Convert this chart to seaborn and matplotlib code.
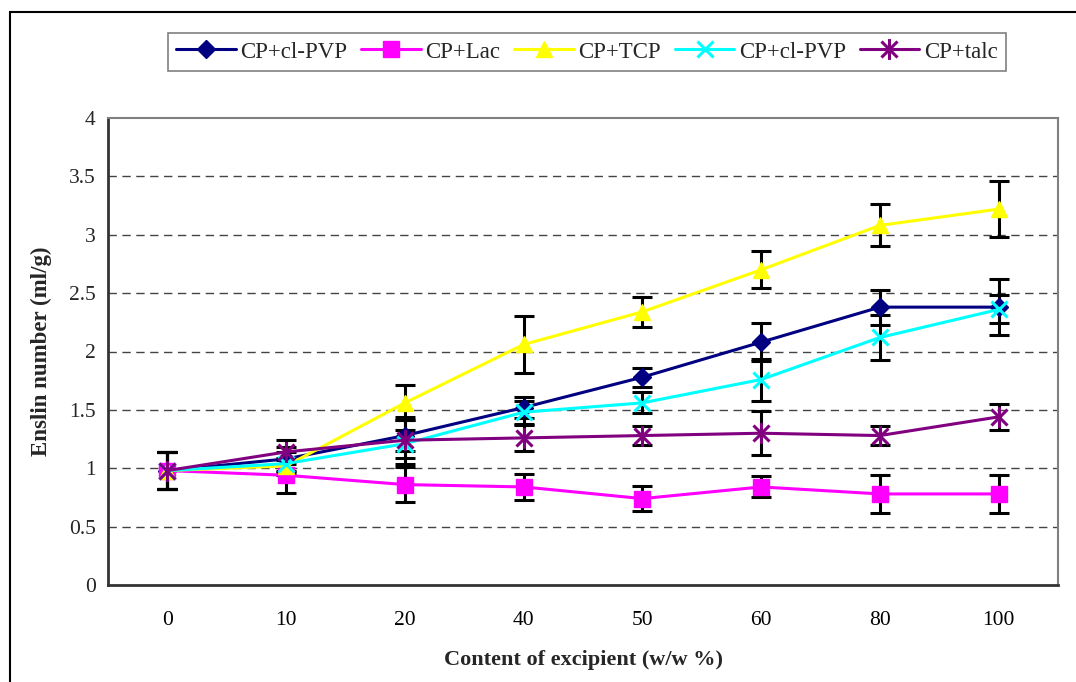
import numpy as np
import pandas as pd
import seaborn as sns
import matplotlib
matplotlib.use('Agg')
from matplotlib import pyplot as plt
from matplotlib.patches import Rectangle
from matplotlib.lines import Line2D
from matplotlib.path import Path
from matplotlib.ticker import FixedLocator

categories = ['0', '10', '20', '40', '50', '60', '80', '100']

clpvp1 = [0.98, 1.08, 1.28, 1.52, 1.78, 2.08, 2.38, 2.38]
clpvp1_err = [0.16, 0.10, 0.13, 0.09, 0.08, 0.16, 0.15, 0.24]
lac = [0.98, 0.94, 0.86, 0.84, 0.74, 0.84, 0.78, 0.78]
lac_err = [0.16, 0.15, 0.15, 0.11, 0.11, 0.09, 0.16, 0.16]
tcp = [0.98, 1.02, 1.56, 2.06, 2.34, 2.70, 3.08, 3.22]
tcp_err = [0.16, 0.05, 0.15, 0.24, 0.13, 0.16, 0.18, 0.24]
clpvp2 = [0.98, 1.04, 1.21, 1.48, 1.56, 1.76, 2.12, 2.36]
clpvp2_err = [0.16, 0.10, 0.12, 0.10, 0.09, 0.18, 0.19, 0.12]
talc = [0.98, 1.14, 1.24, 1.26, 1.28, 1.30, 1.28, 1.44]
talc_err = [0.16, 0.10, 0.20, 0.11, 0.08, 0.19, 0.08, 0.11]

sns.set_style('white')
plt.rcParams['font.family'] = ['Liberation Serif', 'DejaVu Serif']

# excel style asterisk: an x with a vertical stroke through it
star = Path([(-1, -1), (1, 1), (-1, 1), (1, -1), (0, -1.3), (0, 1.3)],
            [Path.MOVETO, Path.LINETO, Path.MOVETO, Path.LINETO, Path.MOVETO, Path.LINETO])

fig = plt.figure(figsize=(10.76, 6.82), dpi=100)
ax = fig.add_axes([108/1076, (682-585)/682, (1058-108)/1076, (585-118)/682])

x = np.arange(len(categories))
# label, values, errors, color, marker, size, edge width
series = [
    ('CP+cl-PVP', clpvp1, clpvp1_err, '#000080', 'D', 9, 1),
    ('CP+Lac', lac, lac_err, '#FF00FF', 's', 11, 1),
    ('CP+TCP', tcp, tcp_err, '#FFFF00', '^', 12, 1),
    ('CP+cl-PVP', clpvp2, clpvp2_err, '#00FFFF', 'x', 11, 2.2),
    ('CP+talc', talc, talc_err, '#800080', star, 15, 2.2),
]

handles = []
for name, vals, err, col, mk, ms, mew in series:
    ax.errorbar(x, vals, yerr=err, fmt='none', ecolor='black', elinewidth=2.2,
                capsize=7, capthick=2.2, zorder=2.5)
    df = pd.DataFrame({'x': x, 'y': vals})
    sns.lineplot(data=df, x='x', y='y', ax=ax, color=col, marker=mk, markersize=ms,
                 markeredgecolor=col, markeredgewidth=mew, linewidth=2.2, zorder=3)
    handles.append(Line2D([0], [0], color=col, marker=mk, markersize=ms,
                          markeredgecolor=col, markeredgewidth=mew, linewidth=2.2, label=name))

ax.set_xlim(-0.5, len(categories) - 0.5)
ax.set_ylim(0, 4)
ax.set_yticks(np.arange(0, 4.01, 0.5))
ax.set_yticklabels(['0', '0.5', '1', '1.5', '2', '2.5', '3', '3.5', '4'])
ax.set_xticks(x)
ax.set_xticklabels(categories)
ax.xaxis.set_minor_locator(FixedLocator(np.arange(-0.5, len(categories), 1.0)))
ax.tick_params(axis='x', which='both', direction='in', length=5, width=1, colors='black',
               pad=19, labelsize=15.5)
ax.tick_params(axis='y', length=0, pad=9, labelsize=15.5)

for yv in np.arange(0.5, 3.6, 0.5):
    ax.axhline(yv, color='#444444', lw=1, dashes=(6, 4), zorder=1)

for s in ['left', 'bottom']:
    ax.spines[s].set_color('#333333')
    ax.spines[s].set_linewidth(2)
for s in ['top', 'right']:
    ax.spines[s].set_color('#808080')
    ax.spines[s].set_linewidth(1.5)

ax.set_xlabel('Content of excipient (w/w %)', fontsize=16, fontweight='bold', labelpad=14)
ax.set_ylabel('Enslin number (ml/g)', fontsize=16.5, fontweight='bold', labelpad=12)

leg = fig.legend(handles=handles, loc='center', bbox_to_anchor=(587/1076, 1 - 52/682),
                 ncol=5, fontsize=16.5, frameon=True, fancybox=False, edgecolor='#606060',
                 handlelength=2.6, handletextpad=0.2, columnspacing=0.6, borderpad=0.35)
leg.get_frame().set_linewidth(1.2)

fig.patches.append(Rectangle((10/1076, -0.1), 1.2, (1 - 12/682) + 0.1, transform=fig.transFigure,
                             fill=False, edgecolor='black', lw=1.5))

fig.savefig('out.png', dpi=100)
